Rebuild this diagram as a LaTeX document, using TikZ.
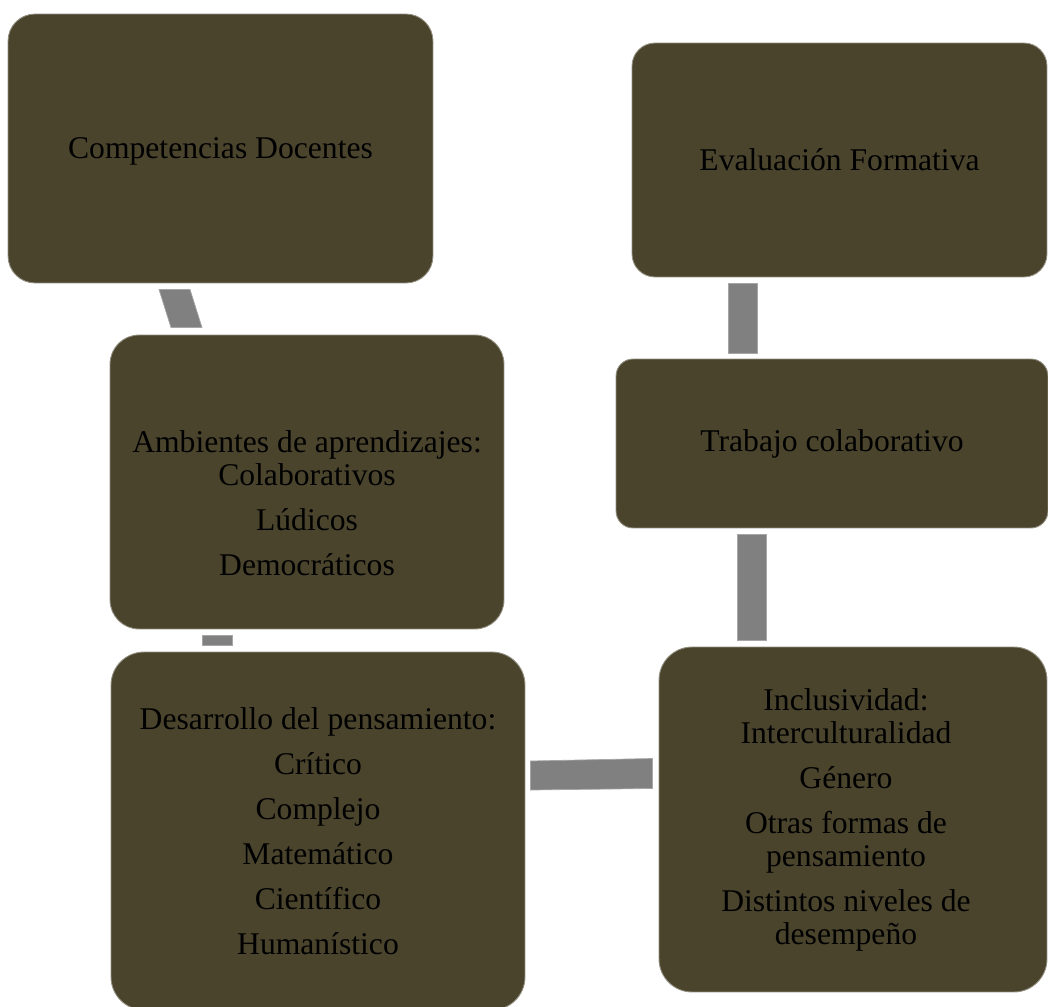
\documentclass[tikz,border=0pt]{standalone}
\usepackage{fontspec}
\setmainfont{Liberation Serif}
\definecolor{boxfill}{RGB}{74,68,45}
\definecolor{linkgray}{RGB}{128,128,128}
\tikzset{
  box/.style={draw=boxfill!60!white,line width=0.5pt,fill=boxfill,inner sep=0pt,
    align=center,text=black,font=\fontsize{18}{18.8}\selectfont},
  boxtext/.style={align=center,text=black,inner sep=0pt,font=\fontsize{18}{18.8}\selectfont},
  link/.style={fill=linkgray,draw=linkgray!70!white,line width=0.4pt}
}
\begin{document}
\begin{tikzpicture}[x=0.02cm,y=-0.02cm]
\useasboundingbox (0,0) rectangle (1048,1007);
% boxes
\node [box,minimum width=8.5cm,minimum height=5.38cm,rounded corners=0.54cm,text depth=0pt] (comp) at (220.5,148.5) {Competencias Docentes};
\node [box,minimum width=8.3cm,minimum height=4.68cm,rounded corners=0.46cm] (eval) at (839.5,160) {Evaluación Formativa};
\node [box,minimum width=7.88cm,minimum height=5.88cm,rounded corners=0.58cm] (amb) at (307,482) {};
\node [boxtext] (ambtext) at ([shift={(0,21.5)}]amb.center) {Ambientes de aprendizajes:\\ Colaborativos\\[6.8pt] Lúdicos\\[6.8pt] Democráticos};
\node [box,minimum width=8.64cm,minimum height=3.38cm,rounded corners=0.34cm] (trab) at (832,443.5) {Trabajo colaborativo};
\node [box,minimum width=8.28cm,minimum height=7.16cm,rounded corners=0.66cm] (des) at (318,831) {Desarrollo del pensamiento:\\[6.8pt] Crítico\\[6.8pt] Complejo\\[6.8pt] Matemático\\[6.8pt] Científico\\[6.8pt] Humanístico};
\node [box,minimum width=7.76cm,minimum height=6.9cm,rounded corners=0.66cm] (inc) at (853,819.5) {};
\node [boxtext] (inctext) at ([shift={(-7,0)}]inc.center) {Inclusividad:\\ Interculturalidad\\[6.8pt] Género\\[6.8pt] Otras formas de\\ pensamiento\\[6.8pt] Distintos niveles de\\ desempeño};
% connectors
\draw [link] ([shift={(-61.5,6)}]comp.south) -- ([shift={(-30.5,6)}]comp.south) -- ([shift={(-105,-7)}]amb.north) -- ([shift={(-136,-7)}]amb.north) -- cycle;
\draw [link] ([shift={(-105,6)}]amb.south) rectangle ([shift={(-86,-6)}]des.north);
\draw [link] ([shift={(5,-70)}]des.east) -- ([shift={(-6,-61)}]inc.west) -- ([shift={(-6,-31)}]inc.west) -- ([shift={(5,-41)}]des.east) -- cycle;
\draw [link] ([shift={(-87,-6)}]inc.north) rectangle ([shift={(-95,6)}]trab.south);
\draw [link] ([shift={(-75,-5)}]trab.north) rectangle ([shift={(-111.5,6)}]eval.south);
\end{tikzpicture}
\end{document}
